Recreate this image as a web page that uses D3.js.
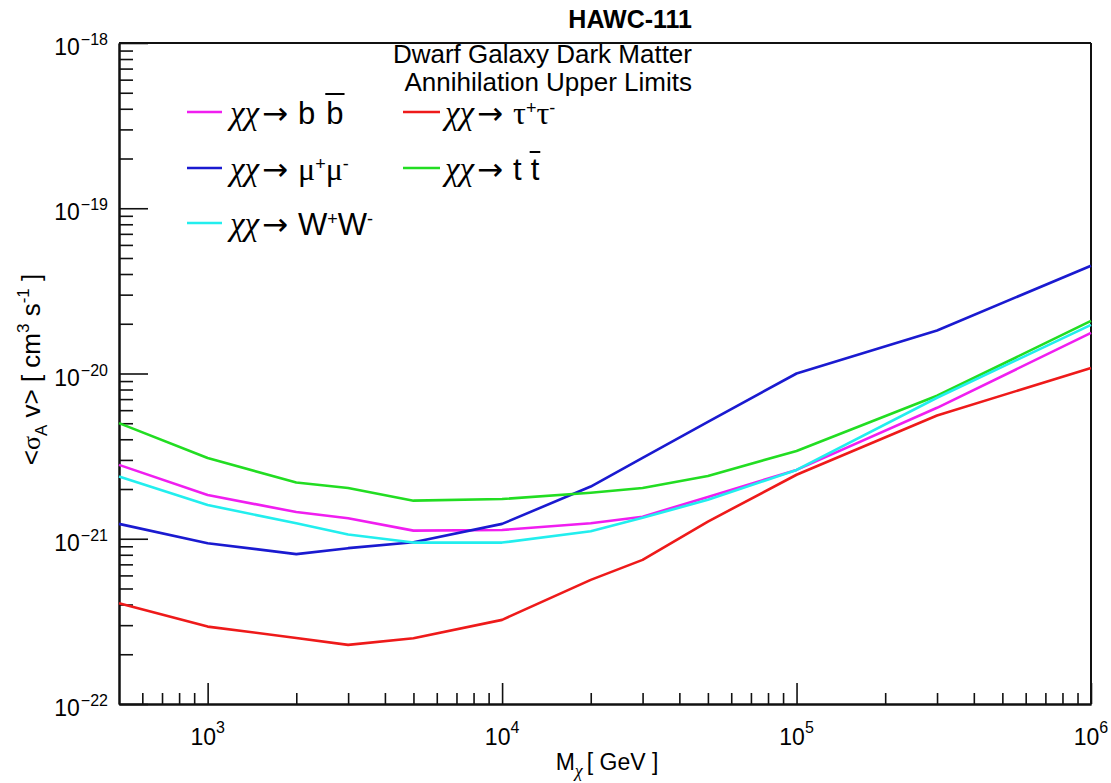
<!DOCTYPE html>
<html>
<head>
<meta charset="utf-8">
<script src="https://cdn.jsdelivr.net/npm/d3@7"></script>
<style>
  html, body { margin: 0; padding: 0; background: #fff; }
  svg { display: block; }
  text { white-space: pre; }
</style>
</head>
<body>
<svg id="chart" width="1111" height="783"></svg>
<script>
// ---------------- data ----------------
const masses = [500, 1000, 2000, 3000, 5000, 10000, 20000, 30000, 50000, 100000, 300000, 1000000];
const bb   = [2.80e-21, 1.84e-21, 1.45e-21, 1.33e-21, 1.12e-21, 1.13e-21, 1.24e-21, 1.36e-21, 1.79e-21, 2.61e-21, 6.20e-21, 1.76e-20];
const tautau = [4.07e-22, 2.94e-22, 2.51e-22, 2.28e-22, 2.50e-22, 3.23e-22, 5.64e-22, 7.45e-22, 1.27e-21, 2.44e-21, 5.57e-21, 1.08e-20];
const mumu = [1.23e-21, 9.40e-22, 8.07e-22, 8.77e-22, 9.53e-22, 1.23e-21, 2.07e-21, 3.09e-21, 5.10e-21, 1.00e-20, 1.82e-20, 4.49e-20];
const tt   = [5.01e-21, 3.08e-21, 2.19e-21, 2.03e-21, 1.70e-21, 1.74e-21, 1.90e-21, 2.03e-21, 2.40e-21, 3.40e-21, 7.33e-21, 2.08e-20];
const WW   = [2.38e-21, 1.60e-21, 1.24e-21, 1.06e-21, 9.48e-22, 9.48e-22, 1.11e-21, 1.34e-21, 1.72e-21, 2.61e-21, 7.13e-21, 1.97e-20];

const seriesNames = ["bb", "tautau", "mumu", "tt", "WW"];
const seriesColors = ["#f01ef0", "#ee1a1a", "#1a1ad0", "#22dd22", "#22eeee"];
const seriesValues = [bb, tautau, mumu, tt, WW];

const xMajorTicks = [1e3, 1e4, 1e5, 1e6];
const xTickExp = ["3", "4", "5", "6"];
const yMajorTicks = [1e-22, 1e-21, 1e-20, 1e-19, 1e-18];
const yTickExp = ["\u221222", "\u221221", "\u221220", "\u221219", "\u221218"];

// ---------------- layout ----------------
const FONT = '"Liberation Sans", Arial, Helvetica, sans-serif';
const SYM = '"Liberation Serif", "DejaVu Serif", serif';
const ARR = '"DejaVu Sans", sans-serif';
const L = 119, R = 1091, T = 43, B = 704;
const svg = d3.select("#chart");

const x = d3.scaleLog().domain([500, 1e6]).range([L, R]);
const y = d3.scaleLog().domain([1e-22, 1e-18]).range([B, T]);

function minorTicks(lo, hi) {
  const out = [];
  for (let d = Math.floor(Math.log10(lo)); d <= Math.ceil(Math.log10(hi)); d++) {
    for (let k = 2; k <= 9; k++) {
      const v = k * Math.pow(10, d);
      if (v > lo * 1.0001 && v < hi * 0.9999) out.push(v);
    }
  }
  return out;
}

// rich text helper: parts laid out sequentially
function rich(parent, parts, px, py, anchor, baseSize, extra) {
  const g = parent.append("g");
  let cx = 0;
  parts.forEach(p => {
    const size = p.size || baseSize;
    const t = g.append("text")
      .attr("x", cx).attr("y", p.dy || 0)
      .attr("font-size", size)
      .attr("font-family", p.font || (p.sym ? SYM : FONT))
      .attr("font-style", p.italic ? "italic" : "normal")
      .attr("font-weight", (extra && extra.bold) ? "bold" : "normal")
      .attr("fill", "#000")
      .text(p.t);
    const w = t.node().getComputedTextLength();
    if (p.over) {
      g.append("line").attr("x1", cx - 1).attr("x2", cx + w + 1)
        .attr("y1", -p.over).attr("y2", -p.over)
        .attr("stroke", "#000").attr("stroke-width", 2);
    }
    cx += w + (p.gap || 0);
  });
  let tx = px;
  if (anchor === "end") tx = px - cx;
  else if (anchor === "middle") tx = px - cx / 2;
  g.attr("transform", `translate(${tx},${py})`);
  return g;
}

// ---------------- axes ----------------
const axisColor = "#111";
const xMajor = svg.append("g").attr("transform", `translate(0,${B})`)
  .call(d3.axisBottom(x).tickValues(xMajorTicks).tickSizeInner(-21).tickSizeOuter(0).tickFormat(""));
const xMinor = svg.append("g").attr("transform", `translate(0,${B})`)
  .call(d3.axisBottom(x).tickValues(minorTicks(500, 1e6)).tickSizeInner(-11).tickSizeOuter(0).tickFormat(""));
const yMajor = svg.append("g").attr("transform", `translate(${L},0)`)
  .call(d3.axisLeft(y).tickValues(yMajorTicks).tickSizeInner(-29).tickSizeOuter(0).tickFormat(""));
const yMinor = svg.append("g").attr("transform", `translate(${L},0)`)
  .call(d3.axisLeft(y).tickValues(minorTicks(1e-22, 1e-18)).tickSizeInner(-14).tickSizeOuter(0).tickFormat(""));

[xMajor, xMinor, yMajor, yMinor].forEach(g => {
  g.selectAll("path.domain").attr("stroke", axisColor).attr("stroke-width", 2);
  g.selectAll(".tick line").attr("stroke", axisColor).attr("stroke-width", 1.6);
});

svg.append("line").attr("x1", L).attr("x2", R).attr("y1", T).attr("y2", T)
  .attr("stroke", axisColor).attr("stroke-width", 2);
svg.append("line").attr("x1", R).attr("x2", R).attr("y1", T).attr("y2", B)
  .attr("stroke", axisColor).attr("stroke-width", 2);

// tick labels
xMajorTicks.forEach((v, i) => {
  rich(svg, [{ t: "10" }, { t: xTickExp[i], size: 16, dy: -12 }], x(v), B + 41, "middle", 23);
});
yMajorTicks.forEach((v, i) => {
  rich(svg, [{ t: "10", gap: 1 }, { t: yTickExp[i], size: 16, dy: -10 }], 108, y(v) + 12, "end", 23);
});

// axis titles
rich(svg, [
  { t: "M" },
  { t: "\u03c7", size: 18, dy: 7, sym: true, italic: true, gap: 4 },
  { t: "[ GeV ]" }
], (L + R) / 2 + 2, 770, "middle", 23);

const yt = svg.append("g").attr("transform", `translate(40,${(T + B) / 2 - 4}) rotate(-90)`);
rich(yt, [
  { t: "<" },
  { t: "\u03c3", sym: true },
  { t: "A", size: 17, dy: 7 },
  { t: " v> [ cm" },
  { t: "3", size: 17, dy: -11 },
  { t: " s" },
  { t: "-1", size: 17, dy: -11 },
  { t: " ]" }
], 0, 0, "middle", 26);

// ---------------- curves ----------------
const line = d3.line().x(d => x(d[0])).y(d => y(d[1]));
seriesValues.forEach((vals, i) => {
  svg.append("path")
    .datum(masses.map((m, j) => [m, vals[j]]))
    .attr("fill", "none")
    .attr("stroke", seriesColors[i])
    .attr("stroke-width", 2.6)
    .attr("stroke-linejoin", "round")
    .attr("d", line);
});

// ---------------- legend ----------------
const chi = { t: "\u03c7\u03c7", sym: true, italic: true, size: 33, gap: 3 };
const arrow = { t: "\u2192", font: ARR, size: 31, gap: 10 };
const sup = (s) => ({ t: s, size: 18, dy: -10 });
const legendItems = [
  { col: 0, row: 0, s: 0, parts: [chi, arrow, { t: "b", gap: 11 }, { t: "b", over: 30 }] },
  { col: 1, row: 0, s: 1, parts: [chi, arrow, { t: "\u03c4", sym: true, size: 32 }, sup("+"), { t: "\u03c4", sym: true, size: 32 }, sup("-")] },
  { col: 0, row: 1, s: 2, parts: [chi, arrow, { t: "\u03bc", sym: true, size: 32 }, sup("+"), { t: "\u03bc", sym: true, size: 32 }, sup("-")] },
  { col: 1, row: 1, s: 3, parts: [chi, arrow, { t: "t", gap: 9 }, { t: "t", over: 28 }] },
  { col: 0, row: 2, s: 4, parts: [chi, arrow, { t: "W" }, sup("+"), { t: "W" }, sup("-")] }
];
const colLineX = [[187, 222], [403, 440]];
const colTextX = [230, 445];
const rowY = [112, 168, 223];
legendItems.forEach(it => {
  const ly = rowY[it.row];
  svg.append("line")
    .attr("x1", colLineX[it.col][0]).attr("x2", colLineX[it.col][1])
    .attr("y1", ly).attr("y2", ly)
    .attr("stroke", seriesColors[it.s]).attr("stroke-width", 2.6);
  rich(svg, it.parts, colTextX[it.col], ly + 12, "start", 31);
});

// ---------------- titles ----------------
rich(svg, [{ t: "HAWC-111" }], 692, 28, "end", 25, { bold: true });
rich(svg, [{ t: "Dwarf Galaxy Dark Matter" }], 692, 63, "end", 26);
rich(svg, [{ t: "Annihilation Upper Limits" }], 692, 91, "end", 26);
</script>
</body>
</html>
